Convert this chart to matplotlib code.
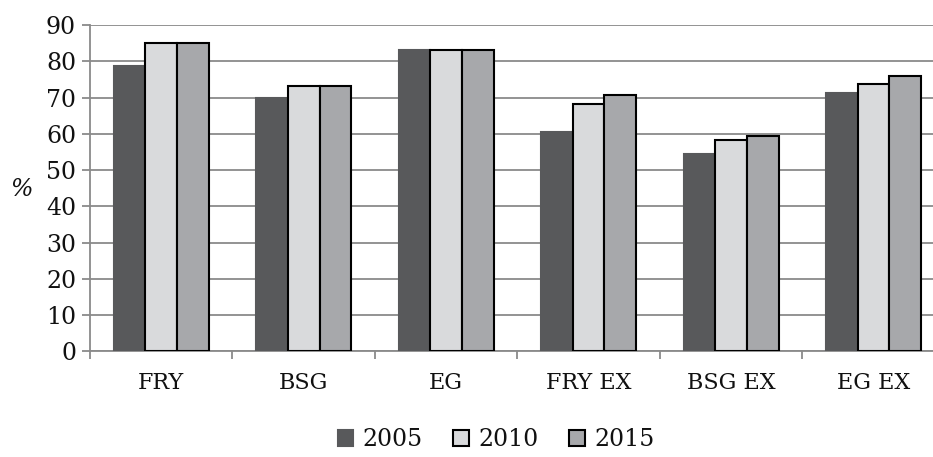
import numpy as np
import matplotlib
matplotlib.use("Agg")
import matplotlib.pyplot as plt
from matplotlib.patches import Patch

plt.rcParams['font.family'] = ['DejaVu Serif']

categories = ["FRY", "BSG", "EG", "FRY EX", "BSG EX", "EG EX"]
years = ["2005", "2010", "2015"]
v2005 = [78.7, 70.0, 83.1, 60.4, 54.5, 71.2]
v2010 = [85.0, 73.2, 83.1, 68.3, 58.2, 73.6]
v2015 = [85.0, 73.2, 83.1, 70.8, 59.4, 76.0]
yticks = [0, 10, 20, 30, 40, 50, 60, 70, 80, 90]

series = [v2005, v2010, v2015]
fills = ["#58595b", "#d9dadc", "#a7a8ab"]
edges = ["#58595b", "#000000", "#000000"]
text_c = "#111111"

fig = plt.figure(figsize=(9.33, 4.57), dpi=100)
ax = fig.add_axes([90 / 933, 105.7 / 457, 854.7 / 933, 326.3 / 457])

x = np.arange(len(categories))
w = 1 / 4.5
for i, (vals, fc, ec) in enumerate(zip(series, fills, edges)):
    ax.bar(x + (i - 1) * w, vals, width=w, color=fc, edgecolor=ec,
           linewidth=1.5, zorder=3)

grid_c = "#8a8a8a"
ax.set_xlim(-0.5, len(categories) - 0.5)
ax.set_ylim(0, 90)
ax.set_yticks(yticks)
ax.set_yticklabels([str(t) for t in yticks], fontsize=17)
ax.yaxis.grid(True, color=grid_c, linewidth=1.3, zorder=0)
ax.set_axisbelow(True)

# group boundaries carry the tick marks, group centres carry the names
ax.set_xticks(np.arange(len(categories) + 1) - 0.5)
ax.set_xticklabels([])
ax.set_xticks(x, minor=True)
ax.set_xticklabels(categories, minor=True, fontsize=16)
ax.tick_params(axis='x', which='major', length=6, width=1.3, color=grid_c)
ax.tick_params(axis='x', which='minor', length=0, pad=15, labelcolor=text_c)
ax.tick_params(axis='y', length=6, width=1.3, color=grid_c, pad=4, labelcolor=text_c)

for s in ["top", "right"]:
    ax.spines[s].set_visible(False)
for s in ["left", "bottom"]:
    ax.spines[s].set_color(grid_c)
    ax.spines[s].set_linewidth(1.3)

fig.text(22 / 933, 1 - 190 / 457, "%", fontsize=17, ha="center", va="center",
         color=text_c, style="italic")

handles = [Patch(facecolor=fc, edgecolor=ec, linewidth=1.5) for fc, ec in zip(fills, edges)]
fig.legend(handles, years, loc="center", bbox_to_anchor=(496 / 933, 1 - 440 / 457),
           ncol=3, frameon=False, fontsize=17, handlelength=0.65, handleheight=0.65,
           handletextpad=0.4, columnspacing=1.3, labelcolor=text_c)

fig.savefig("out.png", dpi=100)
